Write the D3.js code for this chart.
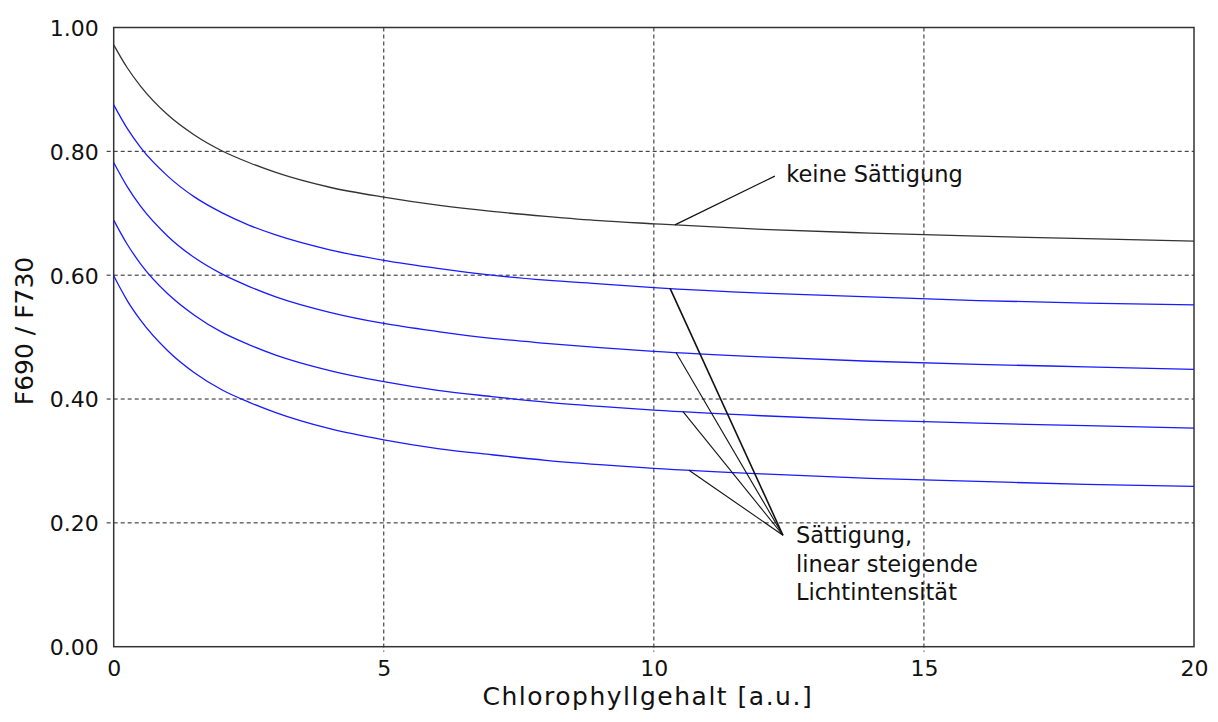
<!DOCTYPE html>
<html>
<head>
<meta charset="utf-8">
<script src="https://cdn.jsdelivr.net/npm/d3@7"></script>
<style>
  html, body { margin: 0; padding: 0; background: #fff; }
  text { font-family: "DejaVu Sans", sans-serif; fill: #111; }
</style>
</head>
<body>
<svg id="chart" width="1218" height="722"></svg>
<script>
// chlorophyll content (x) sample positions
const xs = [0, 0.25, 0.5, 1, 1.5, 2, 2.5, 3, 4, 5, 6, 7, 8, 9, 10, 12, 14, 16, 18, 20];

// F690/F730 without saturation
const noSat = [0.972, 0.935, 0.905, 0.859, 0.826, 0.801, 0.782, 0.766, 0.742, 0.726,
               0.713, 0.703, 0.695, 0.688, 0.683, 0.674, 0.668, 0.663, 0.659, 0.655];

// with saturation, increasing light intensity
const sat1 = [0.875, 0.837, 0.806, 0.760, 0.726, 0.701, 0.681, 0.665, 0.641, 0.624,
              0.611, 0.600, 0.592, 0.586, 0.580, 0.571, 0.565, 0.559, 0.555, 0.552];
const sat2 = [0.782, 0.743, 0.711, 0.663, 0.628, 0.602, 0.582, 0.565, 0.540, 0.522,
              0.509, 0.498, 0.490, 0.483, 0.477, 0.468, 0.461, 0.456, 0.452, 0.448];
const sat3 = [0.689, 0.650, 0.618, 0.570, 0.535, 0.508, 0.488, 0.471, 0.446, 0.428,
              0.414, 0.404, 0.395, 0.388, 0.382, 0.373, 0.366, 0.361, 0.357, 0.353];
const sat4 = [0.599, 0.559, 0.527, 0.478, 0.442, 0.415, 0.395, 0.378, 0.352, 0.334,
              0.320, 0.310, 0.301, 0.294, 0.288, 0.279, 0.272, 0.267, 0.262, 0.259];

const xTicks = [0, 5, 10, 15, 20];
const yTicks = [0, 0.2, 0.4, 0.6, 0.8, 1.0];

// annotation anchors (data units)
const noSatLabel = 'keine Sättigung';
const noSatFrom = 10.39;
const noSatTo = [12.24, 0.760];
const noSatText = [12.45, 0.750];

const satLabel = ['Sättigung,', 'linear steigende', 'Lichtintensität'];
const satFrom = [10.30, 10.41, 10.54, 10.65];
const satTo = [12.39, 0.180];
const satText = [12.63, 0.167];

const margin = { top: 27.5, right: 24, bottom: 75.3, left: 113.7 };
const W = 1218, H = 722;
const w = W - margin.left - margin.right;
const h = H - margin.top - margin.bottom;

const svg = d3.select('#chart')
    .append('g')
    .attr('transform', 'translate(' + margin.left + ',' + margin.top + ')');

const xScale = d3.scaleLinear().domain([0, 20]).range([0, w]);
const yScale = d3.scaleLinear().domain([0, 1]).range([h, 0]);

// grid
svg.append('g')
    .selectAll('line')
    .data(xTicks.slice(1, -1))
    .enter()
    .append('line')
    .attr('x1', d => xScale(d))
    .attr('x2', d => xScale(d))
    .attr('y1', 0)
    .attr('y2', h + 5)
    .attr('stroke', '#222')
    .attr('stroke-width', 1)
    .style('stroke-dasharray', '4,3');

svg.append('g')
    .selectAll('line')
    .data(yTicks.slice(1, -1))
    .enter()
    .append('line')
    .attr('x1', -7)
    .attr('x2', w)
    .attr('y1', d => yScale(d))
    .attr('y2', d => yScale(d))
    .attr('stroke', '#222')
    .attr('stroke-width', 1)
    .style('stroke-dasharray', '4,3');

// axes (labels only, frame drawn separately)
const xAxis = d3.axisBottom(xScale)
    .tickValues(xTicks)
    .tickSize(0)
    .tickPadding(14)
    .tickFormat(d3.format('d'));
const yAxis = d3.axisLeft(yScale)
    .tickValues(yTicks)
    .tickSize(0)
    .tickPadding(15)
    .tickFormat(d3.format('.2f'));

const gX = svg.append('g')
    .attr('transform', 'translate(0,' + h + ')')
    .call(xAxis);
const gY = svg.append('g').call(yAxis);
[gX, gY].forEach(g => {
    g.select('.domain').remove();
    g.selectAll('.tick text')
        .style('font-family', '"DejaVu Sans", sans-serif')
        .style('font-size', '22px')
        .attr('fill', '#111');
});
gY.selectAll('.tick text').attr('dy', '0.36em');

// frame
svg.append('rect')
    .attr('width', w)
    .attr('height', h)
    .attr('fill', 'none')
    .attr('stroke', '#333')
    .attr('stroke-width', 1.5);

// curves
const line = d3.line()
    .x((d, i) => xScale(xs[i]))
    .y(d => yScale(d))
    .curve(d3.curveMonotoneX);

const series = [
    { values: noSat, color: '#333333' },
    { values: sat1, color: '#1a1aff' },
    { values: sat2, color: '#1a1aff' },
    { values: sat3, color: '#1a1aff' },
    { values: sat4, color: '#1a1aff' },
];

svg.append('g')
    .selectAll('path')
    .data(series)
    .enter()
    .append('path')
    .attr('d', d => line(d.values))
    .attr('fill', 'none')
    .attr('stroke', d => d.color)
    .attr('stroke-width', 1.3);

const valueAt = (arr, x) => d3.scaleLinear().domain(xs).range(arr)(x);

// annotations
svg.append('line')
    .attr('x1', xScale(noSatFrom))
    .attr('y1', yScale(valueAt(noSat, noSatFrom)))
    .attr('x2', xScale(noSatTo[0]))
    .attr('y2', yScale(noSatTo[1]))
    .attr('stroke', '#111')
    .attr('stroke-width', 1.2);

svg.append('text')
    .attr('x', xScale(noSatText[0]))
    .attr('y', yScale(noSatText[1]))
    .style('font-size', '22.5px')
    .text(noSatLabel);

const satSeries = [sat1, sat2, sat3, sat4];
svg.append('g')
    .selectAll('line')
    .data(satFrom)
    .enter()
    .append('line')
    .attr('x1', d => xScale(d))
    .attr('y1', (d, i) => yScale(valueAt(satSeries[i], d)))
    .attr('x2', xScale(satTo[0]))
    .attr('y2', yScale(satTo[1]))
    .attr('stroke', '#111')
    .attr('stroke-width', (d, i) => (i === 0 ? 1.6 : 1.1));

svg.append('g')
    .selectAll('text')
    .data(satLabel)
    .enter()
    .append('text')
    .attr('x', xScale(satText[0]))
    .attr('y', (d, i) => yScale(satText[1]) + i * 28.5)
    .style('font-size', '22.5px')
    .text(d => d);

// axis titles
svg.append('text')
    .attr('x', w / 2 - 6)
    .attr('y', h + 58)
    .attr('text-anchor', 'middle')
    .style('font-size', '25px')
    .style('letter-spacing', '1.5px')
    .text('Chlorophyllgehalt [a.u.]');

svg.append('text')
    .attr('transform', 'translate(' + (-margin.left + 33) + ',' + (331 - margin.top) + ') rotate(-90)')
    .attr('text-anchor', 'middle')
    .style('font-size', '25px')
    .text('F690 / F730');
</script>
</body>
</html>
